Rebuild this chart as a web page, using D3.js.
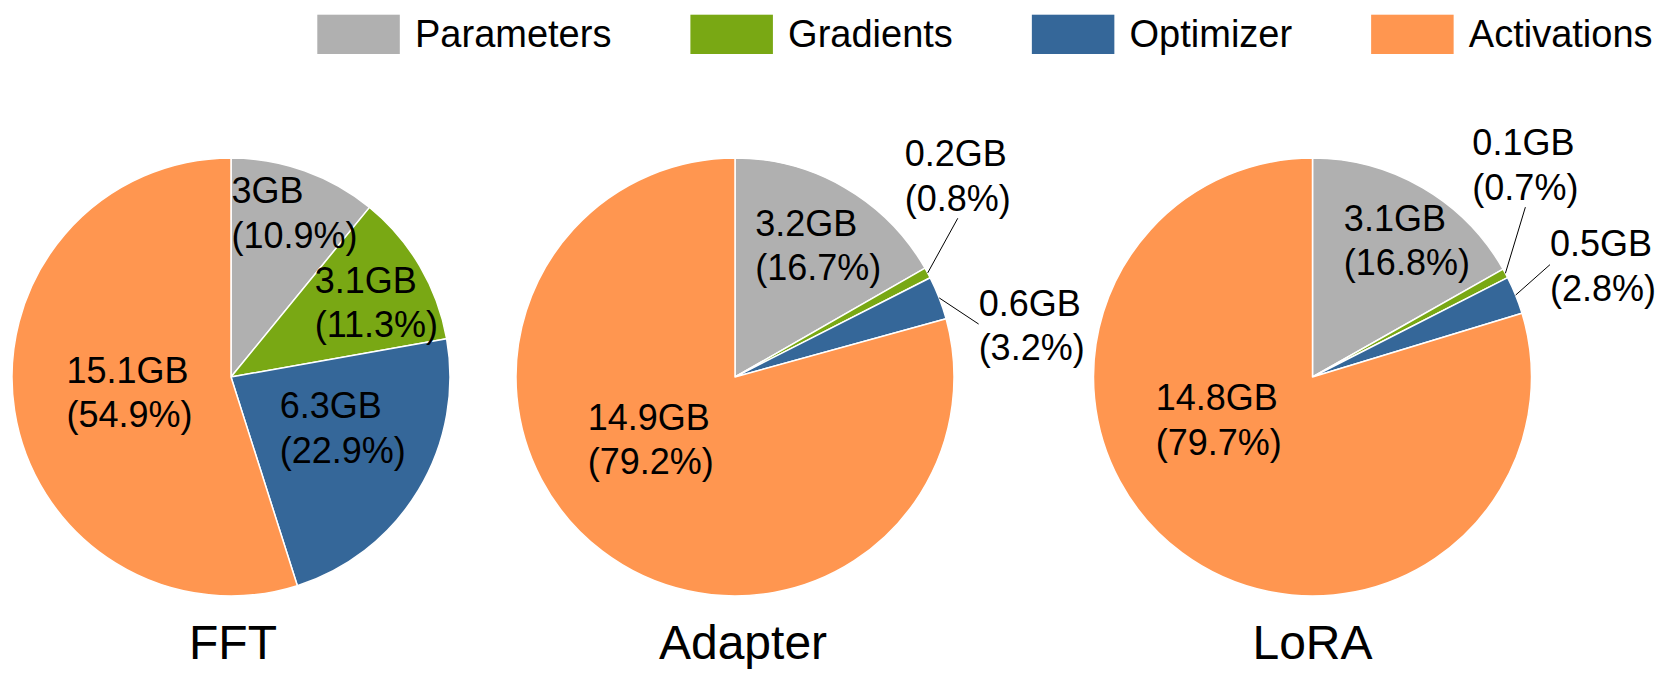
<!DOCTYPE html>
<html><head><meta charset="utf-8">
<script src="https://cdn.jsdelivr.net/npm/d3@7"></script>
<style>body{margin:0;background:#fff} text{font-family:Arial,"Liberation Sans",sans-serif;fill:#000}</style>
</head><body><svg id="chart" width="1660" height="680"></svg>
<script>
// ---- data ----
const categories = ["Parameters", "Gradients", "Optimizer", "Activations"];
const methods = ["FFT", "Adapter", "LoRA"];
const fftGB = [3, 3.1, 6.3, 15.1];
const fftPct = [10.9, 11.3, 22.9, 54.9];
const adapterGB = [3.2, 0.2, 0.6, 14.9];
const adapterPct = [16.7, 0.8, 3.2, 79.2];
const loraGB = [3.1, 0.1, 0.5, 14.8];
const loraPct = [16.8, 0.7, 2.8, 79.7];

// ---- style / layout ----
const colors = ["#b0b0b0", "#79a814", "#356799", "#ff9650"];
const R = 219, CY = 377;
const centerX = d3.scaleOrdinal(methods, [231, 735, 1312.5]);
const titleShift = d3.scaleOrdinal(methods, [2, 8, 0]);
// label placement: [angle offset from slice mid (deg), radius fraction]
const labelLayout = {
  FFT:     [[1.0, 0.784], [3.8, 0.727], [-4.6, 0.555], [-1.3, 0.485]],
  Adapter: [[2.0, 0.69], [-13.6, 1.35], [11.8, 1.359], [15.7, 0.499]],
  LoRA:    [[4.2, 0.738], [-16.6, 1.352], [1.4, 1.402], [27.8, 0.49]]
};
const labelFont = 36, legendFont = 38, titleFont = 48;

const seriesGB = {FFT: fftGB, Adapter: adapterGB, LoRA: loraGB};
const seriesPct = {FFT: fftPct, Adapter: adapterPct, LoRA: loraPct};

const svg = d3.select("#chart");
const color = d3.scaleOrdinal(categories, colors);
const pie = d3.pie().sort(null).value(d => d.pct);
const arc = d3.arc().innerRadius(0).outerRadius(R);

methods.forEach(m => {
  const cx = centerX(m);
  const rows = categories.map((c, i) => ({cat: c, gb: seriesGB[m][i], pct: seriesPct[m][i]}));
  const arcs = pie(rows);
  const g = svg.append("g").attr("transform", `translate(${cx},${CY})`);
  g.selectAll("path.slice").data(arcs).enter().append("path")
    .attr("class", "slice")
    .attr("d", arc)
    .attr("fill", d => color(d.data.cat))
    .attr("stroke", "#fff").attr("stroke-width", 1.5).attr("stroke-linejoin", "round");

  arcs.forEach((d, i) => {
    const [off, frac] = labelLayout[m][i];
    const mid = (d.startAngle + d.endAngle) / 2;
    const [px, py] = d3.pointRadial(mid + off * Math.PI / 180, frac * R);
    const lg = g.append("g");
    const t1 = lg.append("text").attr("font-size", labelFont).text(d.data.gb + "GB");
    const t2 = lg.append("text").attr("font-size", labelFont).text("(" + d.data.pct.toFixed(1) + "%)");
    const w = Math.max(t1.node().getComputedTextLength(), t2.node().getComputedTextLength());
    const x0 = px - w / 2 + 3, b1 = py - 13, b2 = py + 31.5;
    t1.attr("x", x0).attr("y", b1);
    t2.attr("x", x0).attr("y", b2);
    if (frac > 1) {
      const [ax, ay] = d3.pointRadial(mid, R);
      const y0 = b1 - 25, y1 = b2 + 7.5;
      let ex, ey;
      if (ax < x0) { ex = x0; ey = (y0 + y1) / 2 - 5; }
      else { ex = x0 + w / 2; ey = y1; }
      g.append("line").attr("x1", ax).attr("y1", ay).attr("x2", ex).attr("y2", ey)
        .attr("stroke", "#000").attr("stroke-width", 1);
    }
  });

  svg.append("text").attr("x", cx + titleShift(m)).attr("y", 659.3)
    .attr("text-anchor", "middle").attr("font-size", titleFont).text(m);
});

// ---- legend ----
let lx = 317.3;
categories.forEach(c => {
  svg.append("rect").attr("x", lx).attr("y", 14.7).attr("width", 82.5).attr("height", 39.3)
    .attr("fill", color(c));
  const t = svg.append("text").attr("x", lx + 97.7).attr("y", 47.3)
    .attr("font-size", legendFont).text(c);
  lx += 97.7 + t.node().getComputedTextLength() + 79;
});
</script></body></html>
